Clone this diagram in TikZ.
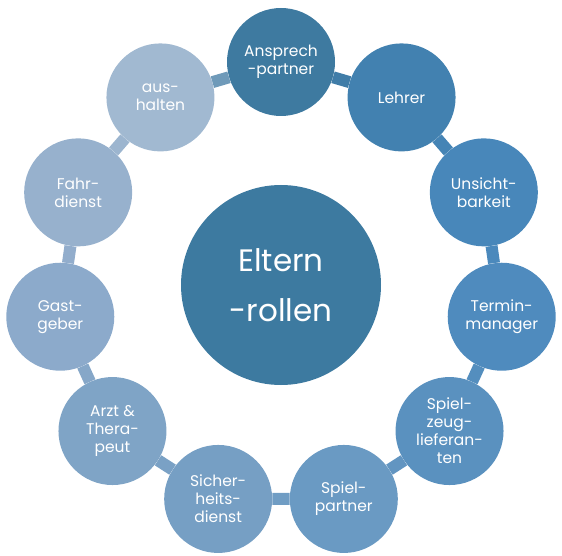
\documentclass[tikz,border=0pt]{standalone}
\usepackage{fontspec}
\setmainfont{Poppins}
\usetikzlibrary{calc}
\definecolor{colM}{RGB}{61,122,160}
\definecolor{col0}{RGB}{62,122,160}
\definecolor{col1}{RGB}{66,129,176}
\definecolor{col2}{RGB}{72,135,186}
\definecolor{col3}{RGB}{79,139,190}
\definecolor{col4}{RGB}{90,145,191}
\definecolor{col5}{RGB}{106,154,195}
\definecolor{col6}{RGB}{118,159,196}
\definecolor{col7}{RGB}{127,164,198}
\definecolor{col8}{RGB}{140,170,203}
\definecolor{col9}{RGB}{151,177,205}
\definecolor{col10}{RGB}{161,185,209}

\begin{document}
\begin{tikzpicture}[x=1pt,y=1pt,
  rolle/.style={circle,minimum size=108pt,inner sep=0pt,align=center,text=white,
    font=\fontsize{15.5}{18}\selectfont},
  mitte/.style={rolle,minimum size=200pt,font=\fontsize{31}{50}\selectfont},
  glied/.style={line width=12pt}]
\useasboundingbox (0,0) rectangle (562,555);
\coordinate (Z) at (281,270);
\node[mitte,fill=colM] (M) at (Z) {Eltern\\-rollen};
\foreach \i/\t in {0/{Ansprech\\-partner},1/Lehrer,2/{Unsicht-\\barkeit},3/{Termin-\\manager},
  4/{Spiel-\\zeug-\\lieferan-\\ten},5/{Spiel-\\partner},6/{Sicher-\\heits-\\dienst},
  7/{Arzt \&\\Thera-\\peut},8/{Gast-\\geber},9/{Fahr-\\dienst},10/{aus-\\halten}}
  \node[rolle,fill=col\i] (R\i) at ($(Z)+(90-\i*32.7273:223)$) {\t};
\foreach \i in {0,...,10} {
  \pgfmathtruncatemacro\j{mod(\i+1,11)}
  \draw[glied,col\i!50!col\j] (R\i) -- (R\j);
}
\end{tikzpicture}
\end{document}
